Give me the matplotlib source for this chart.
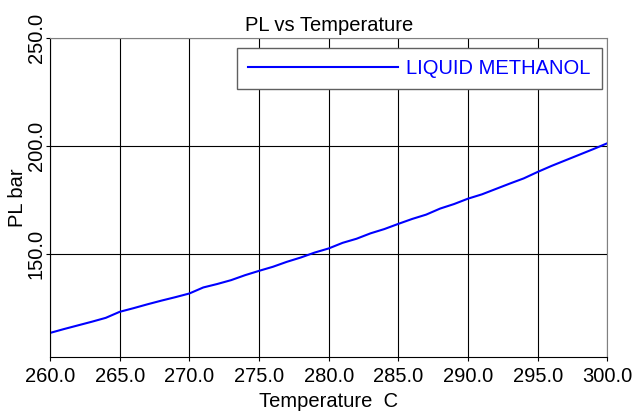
import matplotlib
matplotlib.use("Agg")
import matplotlib.pyplot as plt

plt.rcParams['font.family'] = ['Liberation Sans', 'DejaVu Sans']

# temperature in C, liquid pressure in bar
temp = [260, 261, 262, 263, 264, 265, 266, 267, 268, 269, 270,
        271, 272, 273, 274, 275, 276, 277, 278, 279, 280,
        281, 282, 283, 284, 285, 286, 287, 288, 289, 290,
        291, 292, 293, 294, 295, 296, 297, 298, 299, 300]
pl = [113.3, 115.1, 116.8, 118.5, 120.3, 123.1, 124.8, 126.6, 128.3, 129.9, 131.6,
      134.4, 136.0, 137.8, 140.1, 142.1, 144.0, 146.3, 148.3, 150.6, 152.5,
      155.1, 157.0, 159.5, 161.5, 163.9, 166.2, 168.2, 171.0, 173.1, 175.6,
      177.6, 180.1, 182.6, 185.0, 188.0, 190.8, 193.4, 196.0, 198.6, 201.3]

xticks = [260, 265, 270, 275, 280, 285, 290, 295, 300]
yticks = [150, 200, 250]

fs = 14.5
fig = plt.figure(figsize=(6.36, 4.11), dpi=100)
ax = fig.add_axes([50/636, 1-357.3/411, 557.3/636, 319/411])

ax.plot(temp, pl, color='#0000ff', lw=1.5, label='LIQUID METHANOL')

ax.set_xlim(260, 300)
ax.set_ylim(102, 250)
ax.set_xticks(xticks)
ax.set_xticklabels(['%.1f' % v for v in xticks], fontsize=fs)
ax.set_yticks(yticks)
ax.set_yticklabels(['%.1f' % v for v in yticks], fontsize=fs,
                   rotation=90, va='center')
ax.tick_params(axis='x', length=3, pad=4, width=0.8)
ax.tick_params(axis='y', length=3, pad=0, width=0.8)
ax.grid(True, color='black', lw=0.8)

for s in ['top', 'right']:
    ax.spines[s].set_color('#808080')
ax.spines['left'].set_color('black')
ax.spines['bottom'].set_color('black')

ax.set_title('PL vs Temperature', fontsize=fs, pad=5)
ax.set_xlabel('Temperature  C', fontsize=fs, labelpad=4)
ax.set_ylabel('PL bar', fontsize=fs)
ax.yaxis.set_label_coords(-0.0413, 0.5)

leg = ax.legend(loc='upper left', bbox_to_anchor=(237/636, 1-47.7/411),
                bbox_transform=fig.transFigure, borderaxespad=0,
                fontsize=fs, handlelength=7.45, handletextpad=0.4,
                borderpad=0.55, fancybox=False, framealpha=1)
leg.get_frame().set_edgecolor('#606060')
leg.get_frame().set_linewidth(1.0)
for t in leg.get_texts():
    t.set_color('#0000ff')

fig.savefig('out.png', dpi=100)
